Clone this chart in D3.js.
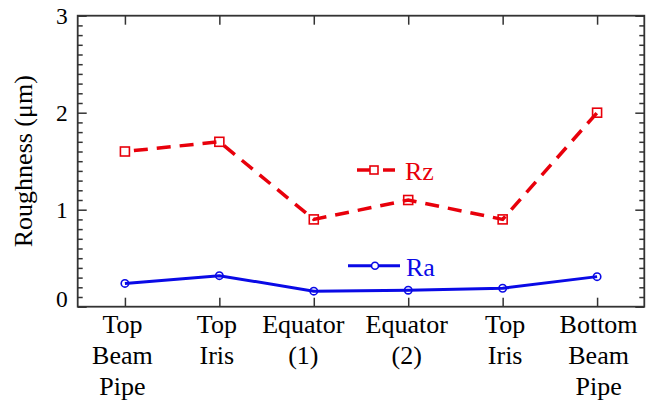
<!DOCTYPE html>
<html>
<head>
<meta charset="utf-8">
<script src="https://cdn.jsdelivr.net/npm/d3@7"></script>
<style>
  body { margin: 0; background: #fff; }
  svg { display: block; }
</style>
</head>
<body>
<div id="chart"></div>
<script>
// Data
const categories = ["Top\nBeam\nPipe", "Top\nIris", "Equator\n(1)", "Equator\n(2)", "Top\nIris", "Bottom\nBeam\nPipe"]
const rzValues = [1.6, 1.7, 0.9, 1.1, 0.9, 2.0]
const raValues = [0.24, 0.32, 0.16, 0.17, 0.19, 0.31]
const yTicks = [0, 1, 2, 3]

// Constants
const width = 650
const height = 404
const margin = { top: 15.7, right: 5.7, bottom: 97.3, left: 77.7 }
const graphWidth = width - margin.left - margin.right
const graphHeight = height - margin.top - margin.bottom

// small horizontal nudges of the category labels, as placed in the original
const labelNudge = [-3, -3, -11, -2, 2, 1]

const red = "#e8000b"
const blue = "#0a0ae6"
const frameColor = "#333"
const serif = "'Liberation Serif', 'Times New Roman', Times, serif"

const svg = d3.select("#chart")
    .append("svg")
    .attr("width", width)
    .attr("height", height)

const g = svg.append("g")
    .attr("transform", `translate(${margin.left}, ${margin.top})`)

// Scales
const x = d3.scaleLinear()
    .domain([-0.5, categories.length - 0.5])
    .range([0, graphWidth])

const y = d3.scaleLinear()
    .domain([0, 3])
    .range([graphHeight, 0])

const minorTicks = d3.range(0, 30).map(d => d / 10).filter(d => d % 1 !== 0)

function styleAxis(sel) {
    sel.attr("font-family", null).attr("font-size", null)
    sel.select(".domain").remove()
    sel.selectAll("line").attr("stroke", frameColor).attr("stroke-width", 1.5)
}

// Left axis: major + minor inward ticks
const yAxisGroup = g.append("g")
yAxisGroup.call(d3.axisLeft(y).tickValues(yTicks).tickSize(-9).tickFormat(""))
styleAxis(yAxisGroup)
yAxisGroup.selectAll(".tick text").remove()
yAxisGroup.selectAll(".tick").append("text")
    .attr("x", -10)
    .attr("dy", d => d === 0 ? "-0.02em" : "0.32em")
    .attr("text-anchor", "end")
    .attr("fill", "#000")
    .style("font-family", serif)
    .attr("font-size", 23.5)
    .text(d3.format("d"))

g.append("g")
    .call(d3.axisLeft(y).tickValues(minorTicks).tickSize(-5).tickFormat(""))
    .call(styleAxis)

// Right axis
g.append("g")
    .attr("transform", `translate(${graphWidth}, 0)`)
    .call(d3.axisRight(y).tickValues(yTicks).tickSize(-9).tickFormat(""))
    .call(styleAxis)
g.append("g")
    .attr("transform", `translate(${graphWidth}, 0)`)
    .call(d3.axisRight(y).tickValues(minorTicks).tickSize(-5).tickFormat(""))
    .call(styleAxis)

// Bottom axis with multi-line category labels
const xAxisGroup = g.append("g")
    .attr("transform", `translate(0, ${graphHeight})`)
xAxisGroup.call(d3.axisBottom(x).tickValues(d3.range(categories.length)).tickSize(-9).tickFormat(""))
styleAxis(xAxisGroup)
xAxisGroup.selectAll(".tick text").remove()
xAxisGroup.selectAll(".tick").each(function (d) {
    const lines = categories[d].split("\n")
    const t = d3.select(this).append("text")
        .attr("fill", "#000")
        .attr("text-anchor", "middle")
        .style("font-family", serif)
        .attr("font-size", 26)
    lines.forEach((l, i) => {
        t.append("tspan")
            .attr("x", labelNudge[d])
            .attr("y", 26.3 + i * 31)
            .text(l)
    })
})

// Top axis
g.append("g")
    .call(d3.axisTop(x).tickValues(d3.range(categories.length)).tickSize(-9).tickFormat(""))
    .call(styleAxis)

// Frame
g.append("rect")
    .attr("width", graphWidth)
    .attr("height", graphHeight)
    .attr("fill", "none")
    .attr("stroke", frameColor)
    .attr("stroke-width", 1.8)

// Y axis title
svg.append("text")
    .attr("transform", `translate(31.5, ${margin.top + graphHeight / 2}) rotate(-90)`)
    .attr("text-anchor", "middle")
    .attr("fill", "#000")
    .style("font-family", serif)
    .attr("font-size", 26)
    .text("Roughness (\u03bcm)")

// Lines
const line = d3.line()
    .x((d, i) => x(i))
    .y(d => y(d))

g.append("path")
    .datum(rzValues)
    .attr("d", line)
    .attr("fill", "none")
    .attr("stroke", red)
    .attr("stroke-width", 3.5)
    .attr("stroke-dasharray", "14,9")
    .attr("stroke-dashoffset", -9)

g.append("path")
    .datum(raValues)
    .attr("d", line)
    .attr("fill", "none")
    .attr("stroke", blue)
    .attr("stroke-width", 3)

// Markers
g.selectAll(".rz-marker")
    .data(rzValues)
    .enter()
    .append("rect")
    .attr("class", "rz-marker")
    .attr("x", (d, i) => x(i) - 4.5)
    .attr("y", d => y(d) - 4.5)
    .attr("width", 9)
    .attr("height", 9)
    .attr("fill", "none")
    .attr("stroke", red)
    .attr("stroke-width", 1.6)

g.selectAll(".ra-marker")
    .data(raValues)
    .enter()
    .append("circle")
    .attr("class", "ra-marker")
    .attr("cx", (d, i) => x(i))
    .attr("cy", d => y(d))
    .attr("r", 3.7)
    .attr("fill", "none")
    .attr("stroke", blue)
    .attr("stroke-width", 1.6)

// Legend
const legRz = svg.append("g").attr("transform", "translate(357, 170)")
legRz.append("line").attr("x1", 0).attr("x2", 38).attr("stroke", red).attr("stroke-width", 3.5)
legRz.append("rect").attr("x", 13).attr("y", -4).attr("width", 8).attr("height", 8)
    .attr("fill", "#fff").attr("stroke", red).attr("stroke-width", 1.6)
legRz.append("line").attr("x1", 21.8).attr("x2", 26).attr("stroke", "#fff").attr("stroke-width", 4)
legRz.append("text").attr("x", 48).attr("y", 10).attr("fill", red)
    .style("font-family", serif).attr("font-size", 26).text("Rz")

const legRa = svg.append("g").attr("transform", "translate(348, 265.7)")
legRa.append("line").attr("x1", 0).attr("x2", 52).attr("stroke", blue).attr("stroke-width", 3)
legRa.append("circle").attr("cx", 27).attr("r", 3.5)
    .attr("fill", "#fff").attr("stroke", blue).attr("stroke-width", 1.6)
legRa.append("text").attr("x", 58).attr("y", 10).attr("fill", blue)
    .style("font-family", serif).attr("font-size", 26).text("Ra")
</script>
</body>
</html>
